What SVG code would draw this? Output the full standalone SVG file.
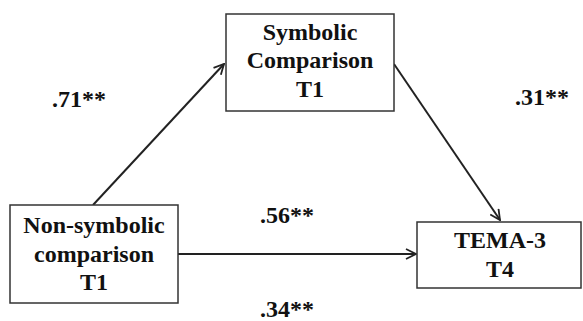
<svg xmlns="http://www.w3.org/2000/svg" width="583" height="321" viewBox="0 0 583 321">
<style>
.box{fill:#fff;stroke:#333;stroke-width:1.5}
.t{font-family:'Liberation Serif','DejaVu Serif','Noto Serif',serif;font-weight:bold;font-size:24px;fill:#111;text-anchor:middle}
.l{font-family:'Liberation Serif','DejaVu Serif','Noto Serif',serif;font-weight:bold;font-size:24px;fill:#111}
.c{fill:none;stroke:#222;stroke-width:2}
</style>
<defs>
<marker id="ah" viewBox="0 0 12 12" refX="11" refY="6" markerWidth="12" markerHeight="12" markerUnits="userSpaceOnUse" orient="auto">
<path d="M1,1 L11,6 L1,11" fill="none" stroke="#222" stroke-width="1.8"/>
</marker>
</defs>
<g id="connectors">
<line class="c" x1="93" y1="205" x2="224" y2="64" marker-end="url(#ah)"/>
<line class="c" x1="394" y1="64" x2="500" y2="220" marker-end="url(#ah)"/>
<line class="c" x1="178" y1="254" x2="416" y2="254" marker-end="url(#ah)"/>
</g>
<g id="symbolic">
<rect class="box" x="226" y="14" width="168" height="97"/>
<text class="t" x="310" y="40">Symbolic</text>
<text class="t" x="310" y="68">Comparison</text>
<text class="t" x="310" y="97">T1</text>
</g>
<g id="nonsymbolic">
<rect class="box" x="10" y="205" width="168" height="98"/>
<text class="t" x="94" y="233">Non-symbolic</text>
<text class="t" x="94" y="262">comparison</text>
<text class="t" x="94" y="290">T1</text>
</g>
<g id="tema">
<rect class="box" x="417" y="222" width="164" height="66"/>
<text class="t" x="500" y="248">TEMA-3</text>
<text class="t" x="500" y="277">T4</text>
</g>
<g id="labels">
<text class="l" x="52" y="107">.71**</text>
<text class="l" x="515" y="105">.31**</text>
<text class="l" x="260" y="223">.56**</text>
<text class="l" x="260" y="317">.34**</text>
</g>
</svg>
